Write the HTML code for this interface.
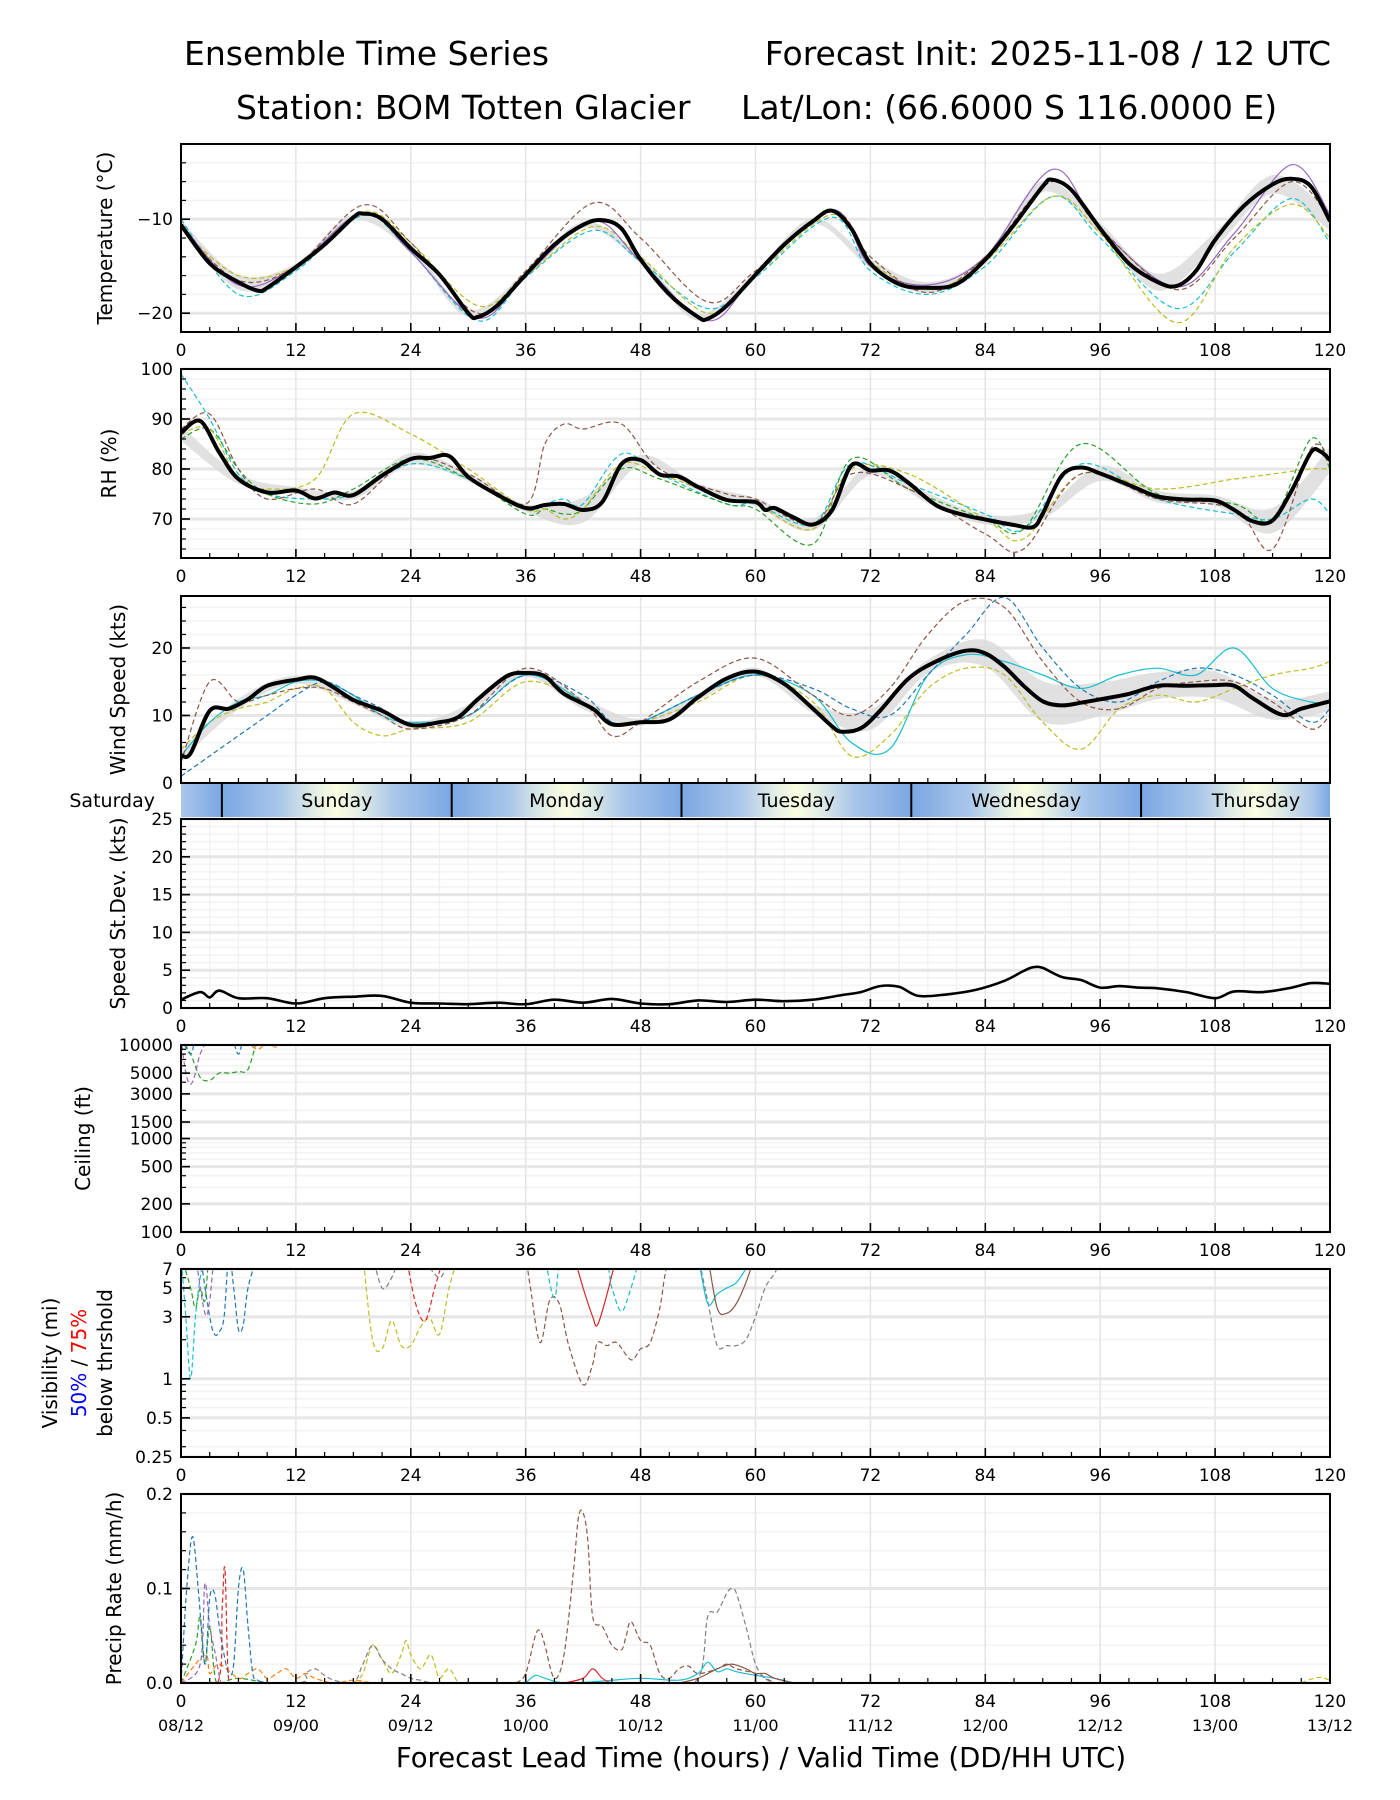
<!DOCTYPE html>
<html><head><meta charset="utf-8"><style>
html,body{margin:0;padding:0;background:#fff}
svg{display:block;font-family:"DejaVu Sans","Liberation Sans",sans-serif}
</style></head><body>
<svg id="chart" width="1400" height="1800" viewBox="0 0 1400 1800" xmlns="http://www.w3.org/2000/svg">
<defs id="defs"></defs>
<text x="184" y="65" font-size="33">Ensemble Time Series</text>
<text x="1331" y="65" font-size="33" text-anchor="end">Forecast Init: 2025-11-08 / 12 UTC</text>
<text x="236" y="119" font-size="33">Station: BOM Totten Glacier</text>
<text x="741" y="119" font-size="33">Lat/Lon: (66.6000 S 116.0000 E)</text>
<text x="761" y="1767" font-size="27.5" text-anchor="middle">Forecast Lead Time (hours) / Valid Time (DD/HH UTC)</text>
<g id="root"></g>
</svg>
<script>
// ---------- DATA ----------
const tempHours=[0,3,6,8,9,12,15,18,19,21,24,27,30,31,33,36,39,42,44,46,48,51,54,55,57,60,63,66,68,70,72,75,78,81,84,87,90,91,93,96,99,102,104,106,108,111,114,116,118,120];
const tempMean=[-10.6,-14.7,-16.7,-17.6,-17.3,-15.1,-12.7,-9.8,-9.4,-10,-13.1,-15.9,-20,-20.4,-19.2,-15.9,-12.7,-10.6,-10.1,-11,-14.3,-18,-20.4,-20.6,-19.2,-15.9,-12.7,-10.2,-9.1,-11,-14.7,-16.9,-17.3,-16.9,-14.3,-10.6,-6.5,-5.8,-6.9,-11,-14.7,-16.7,-17.1,-15.5,-12.2,-8.6,-6.3,-5.7,-6.5,-10.2];
const bandHours=[0,6,12,18,24,30,36,42,48,54,60,66,72,78,84,90,96,102,108,114,120];
const tempSpread=[0.5,0.8,0.4,0.3,0.4,0.4,0.3,0.3,0.4,0.4,0.3,0.3,0.5,0.6,0.4,0.6,0.6,0.9,0.8,1.0,1.0];
const tMemHours=[0,6,12,19,24,31,36,43,48,55,60,68,72,78,84,91,96,104,110,116,120];
const tempOlive=[-11,-16,-15,-9.2,-12.5,-19.2,-16,-10.8,-14,-20,-16,-9.5,-14.5,-17.5,-14.5,-7.6,-11.5,-21,-13,-8.4,-12];
const tempPurple=[-10.5,-17,-15,-9.3,-13.5,-20.5,-16,-10.2,-14.5,-20.8,-16,-9,-15,-17,-14,-4.7,-11,-17.2,-11.5,-4.2,-9.5];
const tempBrown=[-11,-16.5,-15,-8.5,-12.5,-20,-15.5,-8.3,-12,-18.8,-15.5,-9.2,-14,-17.8,-14,-6,-11,-17.5,-12,-6,-10];
const tempCyan=[-10,-18,-15.5,-9.6,-13.5,-20.8,-16.2,-11.2,-14.5,-19.5,-16.2,-9.8,-15.5,-18,-15,-7.6,-12,-19.5,-13.5,-7.8,-12.5];

const rhHours=[0,2,4,6,9,12,14,16,18,21,24,26,28,30,33,36,38,40,42,44,46,48,50,52,54,57,60,61,62,64,66,68,70,72,74,76,79,82,84,87,89,90,92,94,96,99,102,105,108,110,112,114,116,118,119,120];
const rhMean=[87.2,89.6,83.3,78,75.3,75.7,74.1,75.3,74.8,78.7,82,82.2,82.6,78.4,74.9,72.2,72.8,73,71.8,73.4,81,81.8,78.9,78.5,76.4,73.8,73.4,71.8,72.2,70.3,68.9,71.8,80.7,79.7,79.7,77.2,72.6,70.7,69.9,68.8,68.4,71.1,78.7,80.3,79.1,76.8,74.5,73.9,73.7,71.8,69.5,69.7,75.7,83.3,83.5,81.8];
const rhSpread=[1.5,1,0.7,0.8,1.2,0.8,0.8,2.5,1,0.7,0.8,1.2,1,1,1,1,1.5,1.2,1,2.5,2.5];
const rMemHours=[0,3,6,9,14,18,24,30,36,38,40,42,46,50,57,60,66,70,76,84,88,94,102,110,114,118,120];
const rhBrown=[88,91,80,74,76,73,82,79,73,85,89,88,89,80,75,74,69,79,76,67,64,79,74,72,64,84,82];
const rhOlive=[87,88,78,76,78,91,87,80,72,72,70,72,81,79,74,73,68,80,79,70,66,79,76,78,79,80,80];
const rhCyan=[99,90,79,75,74,75,81,78,72,73,74,73,83,79,73,73,69,81,77,71,68,81,74,71,70,74,71];
const rhGreen=[86,88,80,75,73,76,82,78,71,72,71,72,80,78,73,72,65,82,76,70,68,85,75,73,70,86,80];

const windHours=[0,1,3,5,7,9,12,14,16,18,21,24,27,29,31,34,36,38,40,43,45,48,51,54,57,60,63,66,68,69,71,73,76,79,82,84,86,88,90,92,94,96,99,102,105,108,110,112,115,117,120];
const windMean=[4.1,4.4,10.7,11,12.4,14.4,15.3,15.6,14.1,12.3,10.7,8.6,9,9.8,12.4,15.8,16.3,15.8,13.2,11,8.7,9,9.4,12.7,15.5,16.5,14.7,11,8.4,7.6,8.1,10.7,15.5,18.1,19.6,19.2,17.2,14.4,12.1,11.5,11.9,12.4,13.2,14.4,14.4,14.5,14.4,12.5,10.1,11,12.1];
const windSpread=[0.8,0.8,0.6,0.6,0.5,0.5,0.6,0.8,0.5,0.5,0.6,0.6,1.5,1,2,3,2.5,2,2,1.5,1.5];
const wMemHours=[0,3,6,9,12,15,18,21,24,30,36,42,45,48,54,60,66,70,74,78,82,86,90,94,98,102,106,110,114,118,120];
const windBlue=[1,4,7,10,13,15,13,11,8.5,10,16,13,9,9,13,16,14,11,10,16,22,27.5,20,14,12,15,17,16,13,9,11];
const windBrown=[3,15,12,13,14,14,12,10,8,10,17,12,7,9,15,18.5,13,10,14,22,27,26,18,12,11,14,15,15,12,8,10];
const windOlive=[5,9,11,12,14,14,9,7,8,9,15,12,9,9,12,16,12,4,7,14,17,16,9,5,11,13,12,14,16,17,18];
const windCyan=[4,9,12,13,15,15,13,10,9,10,16,12,9,9,13,16,13,6,5,16,19,18,16,14,16,17,16,20,14,12,12];

const stdHours=[0,2,3,4,6,9,12,15,18,21,24,27,30,33,36,39,42,45,48,51,54,57,60,63,66,69,71,73,75,77,80,83,86,88,89,90,92,94,96,98,100,102,105,108,110,113,116,118,120];
const stdValues=[1.1,2.1,1.4,2.3,1.3,1.3,0.6,1.3,1.5,1.6,0.7,0.6,0.5,0.7,0.5,1.1,0.7,1.2,0.6,0.5,1.0,0.8,1.1,0.9,1.1,1.7,2.1,2.9,2.8,1.6,1.8,2.4,3.6,4.9,5.4,5.3,4.1,3.7,2.7,2.9,2.7,2.6,2.1,1.3,2.2,2.1,2.7,3.3,3.2];

const ceilGreenH=[0,1,2,3,4,5,6,7,8];const ceilGreen=[12000,8000,4500,4200,5000,5000,5200,5500,12000];
const ceilPurpleH=[0,0.5,1,1.5,2,3,4];const ceilPurple=[12000,5000,3800,5000,8000,12000,12000];
const ceilBlueH=[0,1,1.5,2,5,6,6.5,7];const ceilBlue=[12000,8000,12000,12000,12000,8000,12000,12000];
const ceilOrangeH=[6,7,8,9,10,11];const ceilOrange=[12000,10500,9000,10500,9500,12000];

const visCyanH=[0,0.5,1,1.5,2,2.5,3];const visCyan=[9,3,1,3,6,9,9];
const visBlueH=[2,3,3.5,4,4.5,5,5.5,6,6.5,7,8];const visBlue=[9,3,2.2,2.3,3,9,5,2.4,2.6,5,9];
const visGreenH=[0,1,1.5,2,2.5,3,4];const visGreen=[9,5,3.5,5,4,9,9];
const visPurpleH=[1.5,2.5,3,3.5,4];const visPurple=[9,3.2,4,9,9];
const visOliveH=[19,20,21,22,23,24,25,26,27,28,29];const visOlive=[9,2,1.7,2.8,1.8,1.8,2.5,2.9,2.2,5,9];
const visRedDH=[23.5,24.5,25.5,26.5,27.5];const visRedD=[9,3.8,2.8,5,9];
const visGrayH=[20,21,22,23,24,25,27,28];const visGray=[9,5,6,9,9,9,6,9];
const visBrownH=[36,36.5,37.5,38.5,39.5,40.5,42,43,43.5,44.5,45.5,47,48,49,50,50.5,51];const visBrown=[9,5,1.9,4,3.8,1.8,0.9,1.3,1.9,1.8,1.9,1.4,1.7,1.9,3.5,6,9];
const visRedH=[41,42,43,43.5,44.5,45.5];const visRed=[9,5,3,2.6,4.5,9];
const visCyan2H=[38,39,40,44,45,46,47,48];const visCyan2=[9,4.2,9,9,5,3.3,5,9];
const visGray2H=[54,55,56,57,58,59,60,61,62,63];const visGray2=[9,4,1.8,1.8,1.8,2,3,5,6.5,9];
const visCyanSH=[54,55,56,57,58,59,60];const visCyanS=[9,3.8,4.5,5,5.5,7,9];
const visBrownSH=[55,56,57,58,59,60];const visBrownS=[9,3.5,3.2,3.8,5.5,9];

const prBlueH=[0,0.6,1.2,1.8,2.5,3,3.5,4,4.5,5,5.5,6,6.5,7,7.5,8,9];const prBlue=[0,0.1,0.155,0.1,0.02,0.09,0.095,0.06,0.03,0.01,0.02,0.1,0.12,0.06,0.01,0.003,0];
const prRedDH=[0,3.8,4.3,4.6,5,6];const prRedD=[0,0,0.08,0.12,0,0];
const prPurpleH=[0,2,2.5,3,3.6,4.2,5];const prPurple=[0,0.02,0.105,0.06,0.03,0,0];
const prGreenH=[0,1.5,2,2.5,3,3.5,4,6,10,20];const prGreen=[0,0.04,0.07,0.02,0.06,0.01,0,0.005,0,0];
const prOrangeH=[0,2.5,3,4,6,7,8,9,10,11,12,13,14,16,18,20];const prOrange=[0,0.03,0.01,0.02,0.005,0.01,0.015,0.005,0.01,0.015,0.005,0.01,0.005,0,0.003,0];
const prOliveH=[18,19,20,21,22,23,23.5,24,25,26,26.5,27,28,29,30];const prOlive=[0,0.01,0.04,0.025,0.01,0.03,0.045,0.03,0.015,0.03,0.02,0.005,0.015,0,0];
const prOlive2H=[117,118,119,120];const prOlive2=[0,0.004,0.006,0.003];
const prGrayH=[0,12,13,14,15,16,18,19,20,21,22,23,24,25,27,35,50,54,55,56,57,57.5,58,59,60,61,62];const prGray=[0,0,0.01,0.015,0.008,0.003,0,0.02,0.04,0.025,0.015,0.01,0.005,0.003,0,0,0,0.005,0.07,0.075,0.095,0.1,0.095,0.06,0.02,0.005,0];
const prBrownH=[35,36,37,37.5,38,39,40,41,41.5,42,42.5,43,44,45,46,46.5,47,48,49,50,51,52,53,54,56,57,58,60,62];const prBrown=[0,0.01,0.05,0.055,0.04,0.005,0.03,0.12,0.175,0.18,0.15,0.07,0.06,0.04,0.035,0.05,0.065,0.045,0.04,0.01,0.005,0.015,0.018,0.01,0.015,0.02,0.015,0.01,0];
const prCyanH=[36,37,38,40,44,48,52,54,55,56,57,58,60,62,64];const prCyan=[0,0.008,0.005,0,0.002,0.005,0.003,0.01,0.022,0.012,0.015,0.012,0.008,0.005,0];
const prRedH=[40,42,43,44,45,46,48];const prRed=[0,0.005,0.015,0.005,0,0,0];
const prBrownSH=[52,54,56,57.5,59,60,61,62,64];const prBrownS=[0,0.005,0.015,0.02,0.015,0.01,0.01,0.005,0];

const xTickLabels=["0","12","24","36","48","60","72","84","96","108","120"];
const dateLabels=["08/12","09/00","09/12","10/00","10/12","11/00","11/12","12/00","12/12","13/00","13/12"];
const dayNames=["Sunday","Monday","Tuesday","Wednesday","Thursday"];
const dayStartHour=4.27;

// ---------- RENDER ----------
const NS="http://www.w3.org/2000/svg";
const root=document.getElementById('root');
const defs=document.getElementById('defs');
const X0=181,X1=1330;
const xs=h=>X0+(X1-X0)*h/120;
function mk(tag,attrs,parent){const e=document.createElementNS(NS,tag);for(const k in attrs)e.setAttribute(k,attrs[k]);(parent||root).appendChild(e);return e;}
function smooth(pts){let d=`M${pts[0][0].toFixed(1)},${pts[0][1].toFixed(1)}`;for(let i=0;i<pts.length-1;i++){const p0=pts[i-1]||pts[i],p1=pts[i],p2=pts[i+1],p3=pts[i+2]||p2;const c1x=p1[0]+(p2[0]-p0[0])/6,c1y=p1[1]+(p2[1]-p0[1])/6,c2x=p2[0]-(p3[0]-p1[0])/6,c2y=p2[1]-(p3[1]-p1[1])/6;d+=`C${c1x.toFixed(1)},${c1y.toFixed(1)} ${c2x.toFixed(1)},${c2y.toFixed(1)} ${p2[0].toFixed(1)},${p2[1].toFixed(1)}`;}return d;}
function interp(hs,vs,h){if(h<=hs[0])return vs[0];for(let i=1;i<hs.length;i++){if(h<=hs[i]){const t=(h-hs[i-1])/(hs[i]-hs[i-1]);return vs[i-1]+t*(vs[i]-vs[i-1]);}}return vs[vs.length-1];}

function makePanel(cfg){
  const g=mk('g',{});
  
  
  const lin=v=>cfg.bottom-(cfg.bottom-cfg.top)*(v-cfg.min)/(cfg.max-cfg.min);
  const lg=v=>cfg.bottom-(cfg.bottom-cfg.top)*(Math.log10(v)-Math.log10(cfg.min))/(Math.log10(cfg.max)-Math.log10(cfg.min));
  const ys=cfg.log?lg:lin;
  const cid='clip-'+cfg.name;
  const cp=mk('clipPath',{id:cid},defs);
  mk('rect',{x:X0,y:cfg.top,width:X1-X0,height:cfg.bottom-cfg.top},cp);
  (cfg.minor||[]).forEach(v=>{const l=mk('line',{x1:X0,x2:X1,y1:ys(v),y2:ys(v),stroke:'#f3f3f3','stroke-width':1.5},g);
    
    });
  for(let h=12;h<120;h+=12){const l=mk('line',{x1:xs(h),x2:xs(h),y1:cfg.top,y2:cfg.bottom,stroke:'#e4e4e4','stroke-width':1.5},g);
    
    }
  if(cfg.xminorGrid){for(let h=3;h<120;h+=3){if(h%12)mk('line',{x1:xs(h),x2:xs(h),y1:cfg.top,y2:cfg.bottom,stroke:'#f0f0f0','stroke-width':1.2},g);}}
  cfg.major.forEach(v=>{const l=mk('line',{x1:X0,x2:X1,y1:ys(v),y2:ys(v),stroke:'#e6e6e6','stroke-width':3},g);
    
    });
  const series=mk('g',{'clip-path':`url(#${cid})`},g);
  
  
  for(let h=0;h<=120;h+=3){const maj=h%12===0;mk('line',{x1:xs(h),x2:xs(h),y1:cfg.bottom,y2:cfg.bottom-(maj?9:5),stroke:'#000','stroke-width':maj?1.6:1.2},g);}
  (cfg.minor||[]).forEach(v=>mk('line',{x1:X0,x2:X0+5,y1:ys(v),y2:ys(v),stroke:'#000','stroke-width':1.2},g));
  cfg.major.forEach((v,i)=>{mk('line',{x1:X0,x2:X0+9,y1:ys(v),y2:ys(v),stroke:'#000','stroke-width':1.6},g);
    const t=mk('text',{x:X0-8,y:ys(v)+6,'font-size':17,'text-anchor':'end'},g);t.textContent=cfg.labels[i];
    
    });
  mk('rect',{x:X0,y:cfg.top,width:X1-X0,height:cfg.bottom-cfg.top,fill:'none',stroke:'#000','stroke-width':2},g);
  if(cfg.xlabels){xTickLabels.forEach((s,i)=>{const t=mk('text',{x:xs(i*12),y:cfg.bottom+24,'font-size':17,'text-anchor':'middle'},g);t.textContent=s;
    
    });}
  const yl=mk('text',{transform:`translate(${cfg.ylx},${(cfg.top+cfg.bottom)/2}) rotate(-90)`,'font-size':20,'text-anchor':'middle'},g);
  yl.textContent=cfg.ylabel;
  
  
  return {ys,series};
}
function line(p,hs,vs,color,w,dash,name){
  const pts=hs.map((h,i)=>[xs(h),p.ys(vs[i])]);
  const a={d:smooth(pts),fill:'none',stroke:color,'stroke-width':w,'stroke-linejoin':'round'};
  if(dash)a['stroke-dasharray']=dash;
  const e=mk('path',a,p.series);
  
  
}
function band(p,hs,vs,bh,sp){
  const up=bh.map((h,i)=>[xs(h),p.ys(interp(hs,vs,h)+sp[i])]);
  const dn=bh.map((h,i)=>[xs(h),p.ys(interp(hs,vs,h)-sp[i])]).reverse();
  const d=smooth(up)+smooth(dn).replace('M','L')+'Z';
  const e=mk('path',{d,fill:'#d9d9d9','fill-opacity':0.8,stroke:'none'},p.series);
  
  
}
const C={blue:'#1f77b4',orange:'#ff7f0e',green:'#2ca02c',red:'#d62728',purple:'#9467bd',brown:'#8c564b',pink:'#e377c2',gray:'#7f7f7f',olive:'#bcbd22',cyan:'#17becf'};
const D='5,3';
const rng=(a,b,s)=>{const r=[];for(let v=a;v<=b+1e-9;v+=s)r.push(+v.toFixed(4));return r;};

// Temperature
let P=makePanel({name:'temperature',top:144,bottom:332,min:-22,max:-2,major:[-20,-10],labels:['\u221220','\u221210'],minor:rng(-22,-2,2),xlabels:true,ylabel:'Temperature (\u00b0C)',ylx:112});
band(P,tempHours,tempMean,bandHours,tempSpread);
line(P,tMemHours,tempCyan,C.cyan,1.2,D,'temp-member-cyan');
line(P,tMemHours,tempOlive,C.olive,1.2,D,'temp-member-olive');
line(P,tMemHours,tempPurple,C.purple,1.2,null,'temp-member-purple');
line(P,tMemHours,tempBrown,C.brown,1.2,D,'temp-member-brown');
line(P,tempHours,tempMean,'#000',4,null,'temp-mean-line');

// RH
P=makePanel({name:'rh',top:369,bottom:558,min:62.2,max:100,major:[70,80,90,100],labels:['70','80','90','100'],minor:rng(64,100,2),xlabels:true,ylabel:'RH (%)',ylx:116});
band(P,rhHours,rhMean,bandHours,rhSpread);
line(P,rMemHours,rhCyan,C.cyan,1.2,D,'rh-member-cyan');
line(P,rMemHours,rhGreen,C.green,1.2,D,'rh-member-green');
line(P,rMemHours,rhOlive,C.olive,1.2,D,'rh-member-olive');
line(P,rMemHours,rhBrown,C.brown,1.2,D,'rh-member-brown');
line(P,rhHours,rhMean,'#000',4,null,'rh-mean-line');

// Wind
P=makePanel({name:'wind',top:596,bottom:783,min:0,max:27.7,major:[0,10,20],labels:['0','10','20'],minor:rng(2,26,2),xlabels:false,ylabel:'Wind Speed (kts)',ylx:125});
band(P,windHours,windMean,bandHours,windSpread);
line(P,wMemHours,windOlive,C.olive,1.2,D,'wind-member-olive');
line(P,wMemHours,windCyan,C.cyan,1.2,null,'wind-member-cyan');
line(P,wMemHours,windBlue,C.blue,1.2,D,'wind-member-blue');
line(P,wMemHours,windBrown,C.brown,1.2,D,'wind-member-brown');
line(P,windHours,windMean,'#000',4,null,'wind-mean-line');

// Day band
(function(){
  const grad=mk('linearGradient',{id:'dayGrad',gradientUnits:'userSpaceOnUse',x1:X0,x2:X1,y1:0,y2:0},defs);
  for(let k=-1;k<6;k++){const b=dayStartHour+24*k;
    [[b,'#7ba7e3'],[b+6,'#a9c6ea'],[b+10,'#e6f0e4'],[b+12,'#fbfde0'],[b+14,'#e6f0e4'],[b+18,'#a9c6ea']].forEach(([h,c])=>{const o=Math.min(1,Math.max(0,h/120));
      mk('stop',{offset:o,'stop-color':c},grad);});}
  const r=mk('rect',{x:X0,y:784,width:X1-X0,height:33,fill:'url(#dayGrad)'});
  
  
  for(let k=0;k<5;k++){const b=dayStartHour+24*k;mk('line',{x1:xs(b),x2:xs(b),y1:784,y2:817,stroke:'#000','stroke-width':2});
    const t=mk('text',{x:xs(b+12),y:807,'font-size':19,'text-anchor':'middle'});t.textContent=dayNames[k];
    
    }
  const s=mk('text',{x:155,y:807,'font-size':19,'text-anchor':'end'});s.textContent='Saturday';
  
  
})();

// Std dev
P=makePanel({name:'stddev',top:819,bottom:1008,min:0,max:25,major:[0,5,10,15,20,25],labels:['0','5','10','15','20','25'],minor:rng(1,24,1),xminorGrid:true,xlabels:true,ylabel:'Speed St.Dev. (kts)',ylx:125});
line(P,stdHours,stdValues,'#000',2.6,null,'stddev-line');

// Ceiling
P=makePanel({name:'ceiling',top:1045,bottom:1232,min:100,max:10000,log:true,major:[100,200,500,1000,1500,3000,5000,10000],labels:['100','200','500','1000','1500','3000','5000','10000'],minor:[300,400,600,700,800,900,2000,4000,6000,7000,8000,9000],xlabels:true,ylabel:'Ceiling (ft)',ylx:90});
line(P,ceilGreenH,ceilGreen,C.green,1.2,D,'ceiling-member-green');
line(P,ceilPurpleH,ceilPurple,C.purple,1.2,D,'ceiling-member-purple');
line(P,ceilBlueH,ceilBlue,C.blue,1.2,D,'ceiling-member-blue');
line(P,ceilOrangeH,ceilOrange,C.orange,1.2,D,'ceiling-member-orange');

// Visibility
P=makePanel({name:'visibility',top:1269,bottom:1457,min:0.25,max:7,log:true,major:[0.25,0.5,1,3,5,7],labels:['0.25','0.5','1','3','5','7'],minor:[0.3,0.4,0.6,0.7,0.8,0.9,2,4,6],xlabels:true,ylabel:'',ylx:50});
[[visCyanH,visCyan,C.cyan,D],[visBlueH,visBlue,C.blue,D],[visGreenH,visGreen,C.green,D],[visPurpleH,visPurple,C.purple,D],[visOliveH,visOlive,C.olive,D],[visRedDH,visRedD,C.red,D],[visGrayH,visGray,C.gray,D],[visBrownH,visBrown,C.brown,D],[visRedH,visRed,C.red,null],[visCyan2H,visCyan2,C.cyan,D],[visGray2H,visGray2,C.gray,D],[visCyanSH,visCyanS,C.cyan,null],[visBrownSH,visBrownS,C.brown,null]].forEach(s=>line(P,s[0],s[1],s[2],1.2,s[3],'visibility-member'));

// Precip
P=makePanel({name:'precip',top:1494,bottom:1683,min:0,max:0.2,major:[0,0.1,0.2],labels:['0.0','0.1','0.2'],minor:rng(0.02,0.18,0.02),xlabels:true,ylabel:'Precip Rate (mm/h)',ylx:121});
[[prGreenH,prGreen,C.green,D],[prOrangeH,prOrange,C.orange,D],[prPurpleH,prPurple,C.purple,D],[prBlueH,prBlue,C.blue,D],[prRedDH,prRedD,C.red,D],[prOliveH,prOlive,C.olive,D],[prOlive2H,prOlive2,C.olive,D],[prGrayH,prGray,C.gray,D],[prBrownH,prBrown,C.brown,D],[prCyanH,prCyan,C.cyan,null],[prRedH,prRed,C.red,null],[prBrownSH,prBrownS,C.brown,null]].forEach(s=>line(P,s[0],s[1],s[2],1.2,s[3],'precip-member'));
dateLabels.forEach((s,i)=>{const t=mk('text',{x:xs(i*12),y:1731,'font-size':16,'text-anchor':'middle'});t.textContent=s;
  
  });

// Visibility y-label (3 lines)
(function(){
  const cy=(1269+1457)/2;
  const a=mk('text',{transform:`translate(57,${cy}) rotate(-90)`,'font-size':20,'text-anchor':'middle'});a.textContent='Visibility (mi)';
  
  
  const b=mk('text',{transform:`translate(86,${cy}) rotate(-90)`,'font-size':20,'text-anchor':'middle'});
  
  
  b.innerHTML='<tspan fill="#0000ff">50%</tspan> / <tspan fill="#ff0000">75%</tspan>';
  const c=mk('text',{transform:`translate(112,${cy}) rotate(-90)`,'font-size':20,'text-anchor':'middle'});c.textContent='below thrshold';
  
  
})();
</script>
</body></html>
